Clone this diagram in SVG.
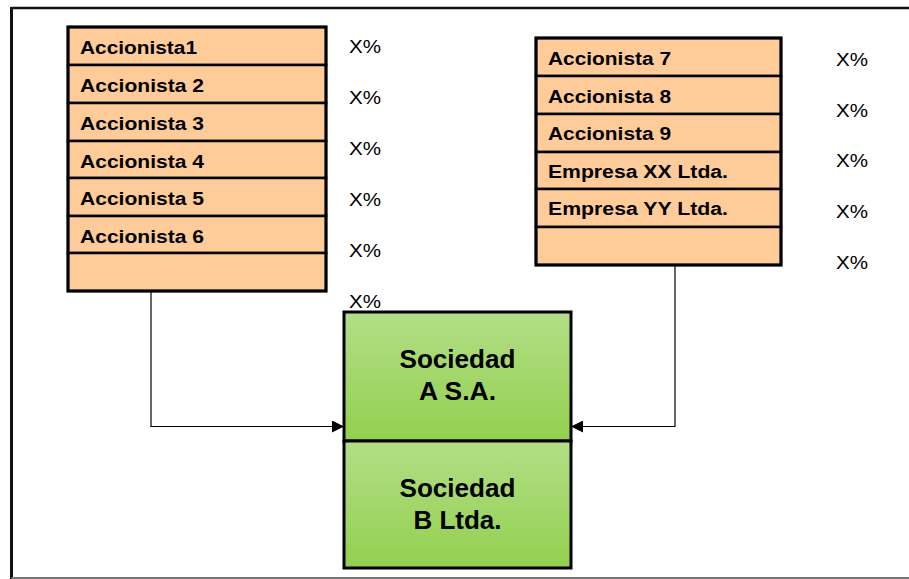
<svg xmlns="http://www.w3.org/2000/svg" width="909" height="579" viewBox="0 0 909 579">
<defs>
<linearGradient id="g" x1="0" y1="0" x2="0" y2="1">
<stop offset="0" stop-color="#b2de86"/>
<stop offset="1" stop-color="#92d050"/>
</linearGradient>
<marker id="arr" viewBox="0 0 10 10" refX="10" refY="5" markerWidth="13" markerHeight="12" markerUnits="userSpaceOnUse" orient="auto">
<path d="M0,0 L10,5 L0,10 Z" fill="#000"/>
</marker>
<style>
.row{fill:#ffcc99;stroke:#000;stroke-width:2.5}
.lbl{font-family:"Liberation Sans",Arial,sans-serif;font-weight:bold;font-size:18px;fill:#000}
.pct{font-family:"Liberation Sans",Arial,sans-serif;font-size:18px;fill:#000}
.big{font-family:"Liberation Sans",Arial,sans-serif;font-weight:bold;font-size:25px;fill:#000;text-anchor:middle}
.soc{fill:url(#g);stroke:#000;stroke-width:3}
.con{fill:none;stroke:#000;stroke-width:1.2}
</style>
</defs>
<rect width="909" height="579" fill="#fff"/>
<g id="frame">
<line x1="11.5" y1="8" x2="909" y2="8" stroke="#111" stroke-width="2.5"/>
<line x1="11.5" y1="7" x2="11.5" y2="579" stroke="#111" stroke-width="3"/>
<line x1="11.5" y1="578" x2="909" y2="578" stroke="#777" stroke-width="2"/>
</g>
<g id="connectors">
<path class="con" d="M151,291 V426.5 H344" marker-end="url(#arr)"/>
<path class="con" d="M675,265 V426.5 H571" marker-end="url(#arr)"/>
</g>
<g id="left-table">
<rect class="row" x="68" y="27" width="258" height="38"/>
<rect class="row" x="68" y="65" width="258" height="38"/>
<rect class="row" x="68" y="103" width="258" height="38"/>
<rect class="row" x="68" y="141" width="258" height="37"/>
<rect class="row" x="68" y="178" width="258" height="38"/>
<rect class="row" x="68" y="216" width="258" height="37"/>
<rect class="row" x="68" y="253" width="258" height="38"/>
<rect x="68" y="27" width="258" height="264" fill="none" stroke="#000" stroke-width="3"/>
<text class="lbl" x="80" y="54" textLength="117" lengthAdjust="spacingAndGlyphs">Accionista1</text>
<text class="lbl" x="80" y="92" textLength="124" lengthAdjust="spacingAndGlyphs">Accionista 2</text>
<text class="lbl" x="80" y="130" textLength="124" lengthAdjust="spacingAndGlyphs">Accionista 3</text>
<text class="lbl" x="80" y="168" textLength="124" lengthAdjust="spacingAndGlyphs">Accionista 4</text>
<text class="lbl" x="80" y="205" textLength="124" lengthAdjust="spacingAndGlyphs">Accionista 5</text>
<text class="lbl" x="80" y="243" textLength="124" lengthAdjust="spacingAndGlyphs">Accionista 6</text>
</g>
<g id="left-pct">
<text class="pct" x="349" y="53" textLength="32" lengthAdjust="spacingAndGlyphs">X%</text>
<text class="pct" x="349" y="104" textLength="32" lengthAdjust="spacingAndGlyphs">X%</text>
<text class="pct" x="349" y="155" textLength="32" lengthAdjust="spacingAndGlyphs">X%</text>
<text class="pct" x="349" y="206" textLength="32" lengthAdjust="spacingAndGlyphs">X%</text>
<text class="pct" x="349" y="257" textLength="32" lengthAdjust="spacingAndGlyphs">X%</text>
<text class="pct" x="349" y="308" textLength="32" lengthAdjust="spacingAndGlyphs">X%</text>
</g>
<g id="right-table">
<rect class="row" x="536" y="38" width="245" height="38"/>
<rect class="row" x="536" y="76" width="245" height="38"/>
<rect class="row" x="536" y="114" width="245" height="38"/>
<rect class="row" x="536" y="152" width="245" height="37"/>
<rect class="row" x="536" y="189" width="245" height="38"/>
<rect class="row" x="536" y="227" width="245" height="38"/>
<rect x="536" y="38" width="245" height="227" fill="none" stroke="#000" stroke-width="3"/>
<text class="lbl" x="548" y="65" textLength="123" lengthAdjust="spacingAndGlyphs">Accionista 7</text>
<text class="lbl" x="548" y="103" textLength="123" lengthAdjust="spacingAndGlyphs">Accionista 8</text>
<text class="lbl" x="548" y="140" textLength="123" lengthAdjust="spacingAndGlyphs">Accionista 9</text>
<text class="lbl" x="548" y="178" textLength="180" lengthAdjust="spacingAndGlyphs">Empresa XX Ltda.</text>
<text class="lbl" x="548" y="215" textLength="180" lengthAdjust="spacingAndGlyphs">Empresa YY Ltda.</text>
</g>
<g id="right-pct">
<text class="pct" x="836" y="66" textLength="32" lengthAdjust="spacingAndGlyphs">X%</text>
<text class="pct" x="836" y="117" textLength="32" lengthAdjust="spacingAndGlyphs">X%</text>
<text class="pct" x="836" y="167" textLength="32" lengthAdjust="spacingAndGlyphs">X%</text>
<text class="pct" x="836" y="218" textLength="32" lengthAdjust="spacingAndGlyphs">X%</text>
<text class="pct" x="836" y="269" textLength="32" lengthAdjust="spacingAndGlyphs">X%</text>
</g>
<g id="sociedad-a">
<rect class="soc" x="344" y="312" width="227" height="129"/>
<text class="big" x="457.5" y="368" textLength="116" lengthAdjust="spacingAndGlyphs">Sociedad</text>
<text class="big" x="457.5" y="400" textLength="77" lengthAdjust="spacingAndGlyphs">A S.A.</text>
</g>
<g id="sociedad-b">
<rect class="soc" x="344" y="441" width="227" height="127"/>
<text class="big" x="457.5" y="497" textLength="116" lengthAdjust="spacingAndGlyphs">Sociedad</text>
<text class="big" x="457.5" y="529" textLength="88" lengthAdjust="spacingAndGlyphs">B Ltda.</text>
</g>
</svg>
